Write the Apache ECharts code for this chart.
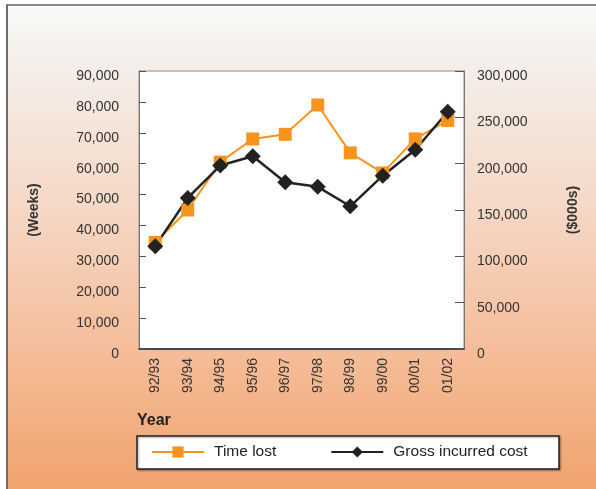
<!DOCTYPE html>
<html>
<head>
<meta charset="utf-8">
<script src="https://cdn.jsdelivr.net/npm/echarts@6/dist/echarts.min.js"></script>
<style>
  html, body { margin: 0; padding: 0; background: #fff; }
  #frame {
    position: absolute; left: 6px; top: 4px; width: 600px; height: 500px;
    border-left: 2px solid #6b6b6b; border-top: 2px solid #8a8a8a;
    background: linear-gradient(to bottom, #fbfaf8 0%, #f4f0ec 10%, #f5d6c3 42%, #f5bc98 70%, #efa068 100%);
  }
  #main { position: absolute; left: 0; top: 0; width: 596px; height: 489px; }
</style>
</head>
<body>
<div id="frame"></div>
<div id="main"></div>
<script>
var years = ['92/93', '93/94', '94/95', '95/96', '96/97', '97/98', '98/99', '99/00', '00/01', '01/02'];
var timeLost = [34500, 45000, 60500, 68000, 69500, 79000, 63500, 57000, 68000, 74000];
var grossCost = [111000, 163000, 198000, 208000, 180000, 175000, 154000, 187000, 215000, 256000];
var weeksTicks = { min: 0, max: 90000, interval: 10000 };
var costTicks = { min: 0, max: 300000, interval: 50000 };

function commas(v) {
    return v.toLocaleString('en-US');
}

var chart = echarts.init(document.getElementById('main'));

var option = {
    animation: false,
    textStyle: { fontFamily: 'Liberation Sans, Arial, sans-serif' },
    grid: {
        left: 139, right: 132, top: 71, bottom: 140,
        show: true,
        backgroundColor: '#fff',
        borderColor: '#8c8c8c',
        borderWidth: 1
    },
    graphic: [
        {
            type: 'text',
            left: 137, top: 413,
            style: { text: 'Year', fill: '#222', font: 'bold 16px Liberation Sans, Arial, sans-serif' }
        },
        {
            type: 'rect',
            shape: { x: 137, y: 436, width: 422, height: 33 },
            style: {
                fill: '#fff', stroke: '#222', lineWidth: 1.5,
                shadowBlur: 2, shadowOffsetX: 1, shadowOffsetY: 1, shadowColor: 'rgba(0,0,0,0.35)'
            }
        }
    ],
    legend: {
        left: 151, top: 444,
        itemWidth: 52, itemHeight: 14,
        itemGap: 54,
        padding: 0,
        textStyle: { fontSize: 15.5, color: '#222', padding: [0, 0, 0, 5] },
        data: ['Time lost', 'Gross incurred cost']
    },
    xAxis: {
        type: 'category',
        data: years,
        boundaryGap: true,
        axisLine: { lineStyle: { color: '#222', width: 1.5 } },
        axisTick: { inside: true, length: 6, lineStyle: { color: '#333' } },
        axisLabel: {
            rotate: 90, margin: 9, fontSize: 14, color: '#333',
            fontFamily: 'Liberation Sans Narrow, Liberation Sans, Arial, sans-serif'
        }
    },
    yAxis: [
        {
            type: 'value',
            min: weeksTicks.min, max: weeksTicks.max, interval: weeksTicks.interval,
            name: '(Weeks)',
            nameLocation: 'middle', nameRotate: 90, nameGap: 98,
            nameTextStyle: { fontSize: 14, fontWeight: 'bold', color: '#333' },
            axisLine: { show: true, lineStyle: { color: '#777' } },
            axisTick: { show: true, inside: true, length: 7, lineStyle: { color: '#555' } },
            splitLine: { show: false },
            axisLabel: {
                margin: 20, fontSize: 14, color: '#333', formatter: commas,
                verticalAlign: 'top', lineHeight: 10,
                fontFamily: 'Liberation Sans Narrow, Liberation Sans, Arial, sans-serif'
            }
        },
        {
            type: 'value',
            position: 'right',
            min: costTicks.min, max: costTicks.max, interval: costTicks.interval,
            name: '($000s)',
            nameLocation: 'middle', nameRotate: 90, nameGap: 102,
            nameTextStyle: { fontSize: 14, fontWeight: 'bold', color: '#333' },
            axisLine: { show: true, lineStyle: { color: '#777' } },
            axisTick: { show: true, inside: true, length: 9, lineStyle: { color: '#555' } },
            splitLine: { show: false },
            axisLabel: {
                margin: 13, fontSize: 14, color: '#333', formatter: commas,
                verticalAlign: 'top', lineHeight: 10
            }
        }
    ],
    series: [
        {
            name: 'Time lost',
            type: 'line',
            yAxisIndex: 0,
            data: timeLost,
            symbol: 'rect',
            symbolSize: 13,
            itemStyle: { color: '#f7941d' },
            lineStyle: { color: '#f7941d', width: 2 }
        },
        {
            name: 'Gross incurred cost',
            type: 'line',
            yAxisIndex: 1,
            data: grossCost,
            symbol: 'diamond',
            symbolSize: [16, 16],
            itemStyle: { color: '#222' },
            lineStyle: { color: '#222', width: 2.5 }
        }
    ]
};

chart.setOption(option);
</script>
</body>
</html>
